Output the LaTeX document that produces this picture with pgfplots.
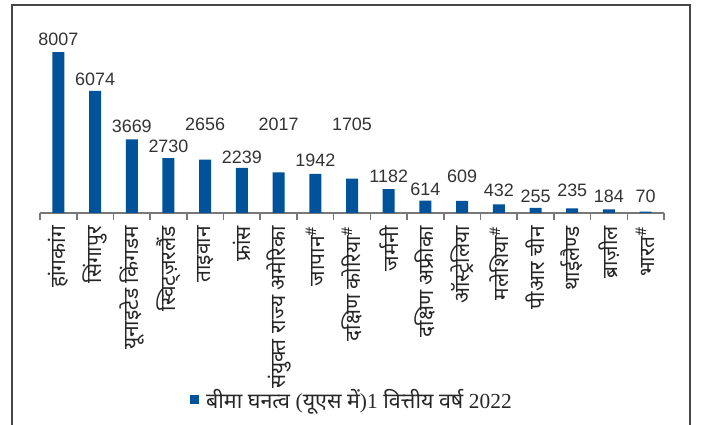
\documentclass[border=0pt]{standalone}
\usepackage{fontspec}
\usepackage{pgfplots}
\pgfplotsset{compat=1.18}
\usepackage{pgfplotstable}
\setmainfont{Liberation Sans}
\newfontfamily\deva[Script=Devanagari]{Noto Sans}
\newfontfamily\serif{Liberation Serif}
\definecolor{barblue}{RGB}{0,82,155}
\definecolor{axisgray}{RGB}{120,120,120}
\definecolor{framegray}{RGB}{70,70,70}

% x = category index, val = insurance density, ly = height of the value label
\pgfplotstableread{
x val ly
0 8007 8354
1 6074 6365
2 3669 4028
3 2730 3033
4 2656 4127
5 2239 2486
6 2017 4127
7 1942 2337
8 1705 4127
9 1182 1541
10 614 895
11 609 1541
12 432 845
13 255 547
14 235 796
15 184 547
16 70 547
}\density

\begin{document}
\begin{tikzpicture}
\useasboundingbox (0,0) rectangle (701bp,425bp);
\draw[framegray, line width=2bp] (11.5bp,0) -- (11.5bp,420bp) -- (689.5bp,420bp) -- (689.5bp,0);
\begin{axis}[
  at={(40bp,212bp)},
  anchor=south west,
  scale only axis,
  width=624bp,
  height=201bp,
  xmin=-0.5, xmax=16.5,
  ymin=0, ymax=10000,
  clip=false,
  axis y line=none,
  axis x line*=bottom,
  x axis line style={axisgray, line width=1.6bp},
  xtick={0,...,16},
  xticklabels={
    हांगकांग, सिंगापुर, यूनाइटेड किंगडम, स्विट्ज़रलैंड, ताइवान, फ्रांस,
    संयुक्त राज्य अमेरिका, जापान\textsuperscript{\#}, दक्षिण कोरिया\textsuperscript{\#},
    जर्मनी, दक्षिण अफ्रीका, ऑस्ट्रेलिया, मलेशिया\textsuperscript{\#}, पीआर चीन,
    थाईलैण्ड, ब्राज़ील, भारत\textsuperscript{\#}},
  major tick length=0pt,
  minor xtick={-0.5,0.5,...,16.5},
  minor tick length=7bp,
  tick align=outside,
  minor x tick style={axisgray, line width=1.6bp},
  xticklabel style={yshift=-13bp, rotate=90, anchor=east, inner sep=0pt,
    font=\deva\fontsize{21}{23}\selectfont, text=black!85},
  legend style={at={(axis description cs:0.5,-0.93)}, anchor=center,
    draw=none, fill=none, font=\deva\fontsize{21.5}{23}\selectfont, text=black!85},
  legend image code/.code={\fill[barblue] (0bp,-4.5bp) rectangle (9bp,4.5bp); \path (14bp,0bp);},
]
\addplot[ybar, bar width=12bp, fill=barblue, draw=none] table[x=x, y=val] {\density};
\addlegendentry{बीमा घनत्व {\serif(}यूएस में{\serif)1} वित्तीय वर्ष {\serif 2022}}
\addplot[forget plot, draw=none, mark=none,
  point meta=explicit symbolic, nodes near coords,
  nodes near coords style={anchor=base, inner sep=0pt,
    font=\fontsize{18}{20}\selectfont, text=black!80}]
  table[x=x, y=ly, meta=val] {\density};
\end{axis}
\end{tikzpicture}
\end{document}
